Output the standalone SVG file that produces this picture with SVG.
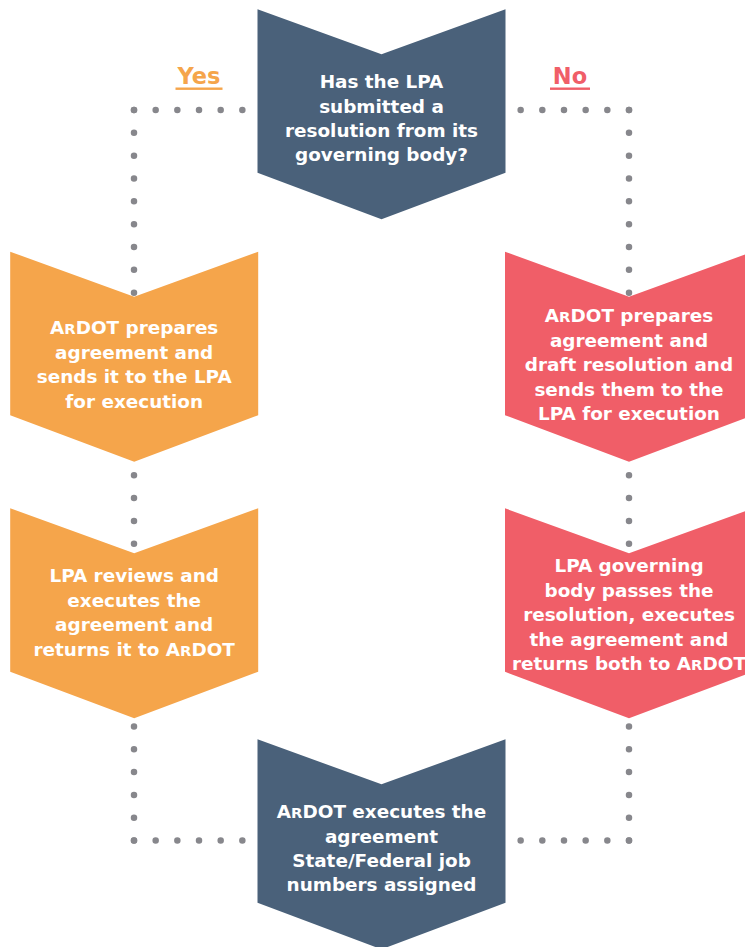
<svg xmlns="http://www.w3.org/2000/svg" width="745" height="947" viewBox="0 0 745 947">
<style>
.bg{fill:#ffffff}
.dv{stroke:#87878c;stroke-width:6.5;stroke-linecap:round;stroke-dasharray:0 22.83;fill:none}
.dh{stroke:#87878c;stroke-width:6.5;stroke-linecap:round;stroke-dasharray:0 21.67;fill:none}
.blue{fill:#4a617a}
.orange{fill:#f5a54b}
.red{fill:#f05e68}
.t{font-family:"DejaVu Sans","Liberation Sans",sans-serif;font-weight:bold;font-size:18.4px;fill:#ffffff;text-anchor:middle}
.sc{font-size:14.8px}
.lbl{font-family:"DejaVu Sans","Liberation Sans",sans-serif;font-weight:bold;font-size:22.5px;text-anchor:middle}
</style>
<rect class="bg" x="0" y="0" width="745" height="947"/>
<g id="connectors">
<line class="dh" x1="134" y1="110" x2="242.5" y2="110"/>
<line class="dv" x1="134" y1="110" x2="134" y2="841"/>
<line class="dh" x1="134" y1="840.6" x2="242.5" y2="840.6"/>
<line class="dh" x1="629" y1="110" x2="520.5" y2="110"/>
<line class="dv" x1="629" y1="110" x2="629" y2="841"/>
<line class="dh" x1="629" y1="840.6" x2="520.5" y2="840.6"/>
</g>
<g id="label-yes">
<text class="lbl" x="199" y="84" fill="#f5a54b">Yes</text>
<rect x="175.5" y="87.5" width="47" height="2.4" fill="#f5a54b"/>
</g>
<g id="label-no">
<text class="lbl" x="570" y="84" fill="#f05e68">No</text>
<rect x="550" y="87.5" width="40" height="2.4" fill="#f05e68"/>
</g>
<g id="node-question">
<polygon class="blue" points="257.5,9.3 381.5,54.3 505.5,9.3 505.5,172.8 381.5,219.3 257.5,172.8"/>
<text class="t" x="381.5" y="88.3">Has the LPA</text>
<text class="t" x="381.5" y="112.6">submitted a</text>
<text class="t" x="381.5" y="137">resolution from its</text>
<text class="t" x="381.5" y="161.4">governing body?</text>
</g>
<g id="node-yes-prepare">
<polygon class="orange" points="10.2,251.7 134.2,296.7 258.2,251.7 258.2,415.2 134.2,461.7 10.2,415.2"/>
<text class="t" x="134.2" y="334">A<tspan class="sc">R</tspan>DOT prepares</text>
<text class="t" x="134.2" y="358.5">agreement and</text>
<text class="t" x="134.2" y="383">sends it to the LPA</text>
<text class="t" x="134.2" y="407.5">for execution</text>
</g>
<g id="node-no-prepare">
<polygon class="red" points="505,251.7 629,296.7 753,251.7 753,415.2 629,461.7 505,415.2"/>
<text class="t" x="629" y="322.3">A<tspan class="sc">R</tspan>DOT prepares</text>
<text class="t" x="629" y="346.8">agreement and</text>
<text class="t" x="629" y="371.3">draft resolution and</text>
<text class="t" x="629" y="395.8">sends them to the</text>
<text class="t" x="629" y="420.3">LPA for execution</text>
</g>
<g id="node-yes-execute">
<polygon class="orange" points="10.2,508.3 134.2,553.3 258.2,508.3 258.2,671.8 134.2,718.3 10.2,671.8"/>
<text class="t" x="134.2" y="582">LPA reviews and</text>
<text class="t" x="134.2" y="606.5">executes the</text>
<text class="t" x="134.2" y="631">agreement and</text>
<text class="t" x="134.2" y="655.5">returns it to A<tspan class="sc">R</tspan>DOT</text>
</g>
<g id="node-no-execute">
<polygon class="red" points="505,508.3 629,553.3 753,508.3 753,671.8 629,718.3 505,671.8"/>
<text class="t" x="629" y="572.3">LPA governing</text>
<text class="t" x="629" y="596.8">body passes the</text>
<text class="t" x="629" y="621.3">resolution, executes</text>
<text class="t" x="629" y="645.8">the agreement and</text>
<text class="t" x="629" y="670.3">returns both to A<tspan class="sc">R</tspan>DOT</text>
</g>
<g id="node-final">
<polygon class="blue" points="257.5,739.3 381.5,784.3 505.5,739.3 505.5,902.8 381.5,949.3 257.5,902.8"/>
<text class="t" x="381.5" y="818.3">A<tspan class="sc">R</tspan>DOT executes the</text>
<text class="t" x="381.5" y="842.6">agreement</text>
<text class="t" x="381.5" y="867">State/Federal job</text>
<text class="t" x="381.5" y="891.3">numbers assigned</text>
</g>
</svg>
